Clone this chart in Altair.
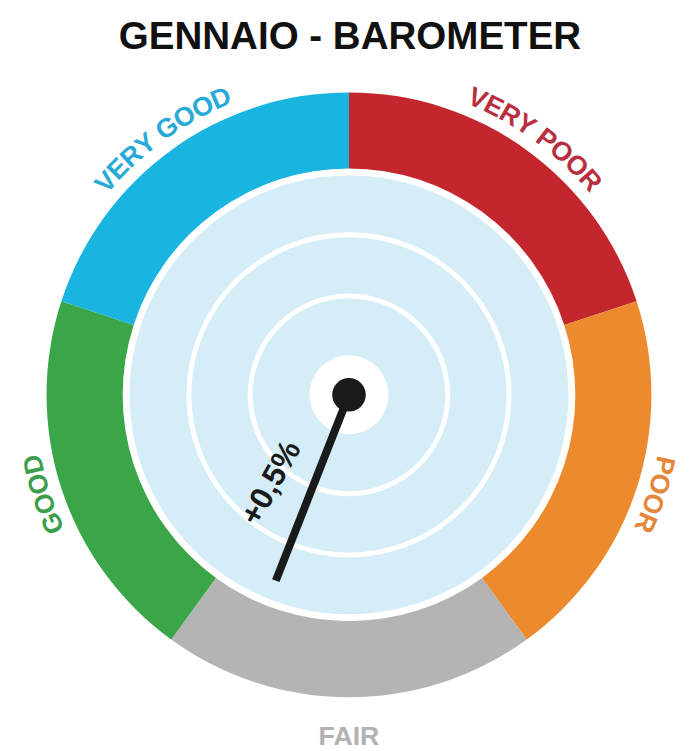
import math
import altair as alt
import pandas as pd

# ---------------- data ----------------
TITLE = "GENNAIO - BAROMETER"
categories = ["VERY POOR", "POOR", "FAIR", "GOOD", "VERY GOOD"]
segment_spans = [72, 72, 72, 72, 72]          # degrees, clockwise from 12 o'clock
needle_angle = [201.5]                         # degrees, clockwise from 12 o'clock
needle_label = ["+0,5%"]

ring_colors = ["#c4262e", "#ec8a2d", "#b4b4b4", "#3aa648", "#19b4e0"]
label_colors = ["#b8303f", "#e4873a", "#b2b2b2", "#3c9e4b", "#27aad8"]

# ---------------- layout constants ----------------
W, H = 688, 743
CX, CY = 345, 387
R_OUT, R_IN = 306, 229
R_DISC = 222
RING_RADII = [100, 162]
RING_W = 5
R_CENTER_WHITE = 40
R_DOT = 17
NEEDLE_LEN = 202
LABEL_R = 326
LABEL_FS = 27
FONT = "Liberation Sans"

# Arial/Liberation Sans Bold advance widths (per 1000 em)
CW = {"V": 667, "E": 667, "R": 722, "Y": 667, " ": 278, "G": 778, "O": 778,
      "D": 722, "P": 667, "A": 722, "I": 278, "F": 611}

seg = pd.DataFrame({"cat": categories, "span": segment_spans})
seg["end"] = seg["span"].cumsum()
seg["start"] = seg["end"] - seg["span"]
seg["mid"] = (seg["start"] + seg["end"]) / 2

theta_scale = alt.Scale(domain=[0, 360], range=[0, 2 * math.pi])

# curved labels, one row per character
rows = []
for cat, mid, col in zip(seg["cat"], seg["mid"], label_colors):
    if cat == "FAIR":
        continue
    widths = [CW.get(c, 700) * LABEL_FS / 1000 for c in cat]
    total = sum(widths)
    cum = 0.0
    for c, w in zip(cat, widths):
        s = cum + w / 2 - total / 2
        cum += w
        if c == " ":
            continue
        th = mid + math.degrees(s / LABEL_R)
        rows.append({"ch": c, "theta": th % 360, "rot": th % 360, "color": col})
chars = pd.DataFrame(rows)

fair = seg[seg["cat"] == "FAIR"].copy()
fair["color"] = [label_colors[categories.index("FAIR")]]

needle = pd.DataFrame({"angle": needle_angle, "label": needle_label})
rad = needle["angle"] * math.pi / 180
needle["x1"] = CX
needle["y1"] = CY
needle["x2"] = CX + NEEDLE_LEN * rad.apply(math.sin)
needle["y2"] = CY - NEEDLE_LEN * rad.apply(math.cos)

one = pd.DataFrame({"t": [TITLE]})

def full_disc(r_outer, r_inner, color):
    return alt.Chart(one).mark_arc(
        x=CX, y=CY, theta=0, theta2=2 * math.pi,
        radius=r_outer, radius2=r_inner
    ).encode(color=alt.value(color))

disc = full_disc(R_DISC, 0, "#d5edf7")
rings = [full_disc(r + RING_W / 2, r - RING_W / 2, "#ffffff") for r in RING_RADII]
center_white = full_disc(R_CENTER_WHITE, 0, "#ffffff")

segments = alt.Chart(seg).mark_arc(
    x=CX, y=CY, radius=R_OUT, radius2=R_IN, stroke=None
).encode(
    theta=alt.Theta("start:Q", scale=theta_scale, stack=None),
    theta2="end:Q",
    color=alt.Color("cat:N", scale=alt.Scale(domain=categories, range=ring_colors), legend=None),
)

labels = alt.Chart(chars).mark_text(
    x=CX, y=CY, radius=LABEL_R, font=FONT, fontWeight="bold", fontSize=LABEL_FS,
    align="center", baseline="middle"
).encode(
    theta=alt.Theta("theta:Q", scale=theta_scale, stack=None),
    angle=alt.Angle("rot:Q", scale=None),
    text="ch:N",
    color=alt.Color("color:N", scale=None),
)

fair_label = alt.Chart(fair).mark_text(
    x=CX, y=CY, radius=346, font=FONT, fontWeight="bold", fontSize=LABEL_FS,
    align="center", baseline="middle"
).encode(
    theta=alt.Theta("mid:Q", scale=theta_scale, stack=None),
    text="cat:N",
    color=alt.Color("color:N", scale=None),
)

needle_rule = alt.Chart(needle).mark_rule(
    strokeWidth=8, color="#1a1a1a", strokeCap="butt"
).encode(
    x=alt.X("x1:Q", scale=None, axis=None),
    y=alt.Y("y1:Q", scale=None, axis=None),
    x2="x2:Q",
    y2="y2:Q",
)

dot = full_disc(R_DOT, 0, "#1a1a1a")

value_text = alt.Chart(needle).transform_calculate(
    lt="datum.angle + 20"
).mark_text(
    x=CX, y=CY, radius=119, angle=299, font=FONT, fontWeight="bold", fontSize=32,
    align="center", baseline="middle", color="#1a1a1a"
).encode(
    theta=alt.Theta("lt:Q", scale=theta_scale, stack=None),
    text="label:N",
)

title = alt.Chart(one).mark_text(
    x=346, y=37, font=FONT, fontWeight="bold", fontSize=39,
    align="center", baseline="alphabetic", color="#111111"
).encode(text="t:N")

chart = alt.layer(
    disc, *rings, center_white, segments, labels, fair_label,
    needle_rule, dot, value_text, title
).properties(
    width=W, height=H, padding=0, autosize="none", background="white"
).configure_view(stroke=None)

chart.save("out.html", embed_options={"renderer": "svg", "actions": False})
